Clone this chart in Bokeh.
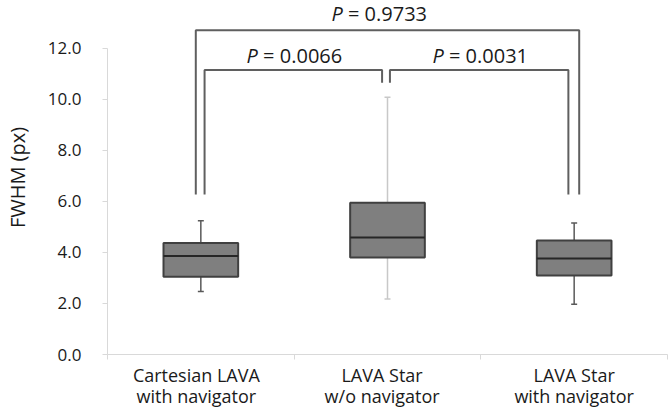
from bokeh.plotting import figure
from bokeh.models import FixedTicker, NumeralTickFormatter, Range1d
from bokeh.core.properties import value
from bokeh.embed import file_html
from bokeh.resources import INLINE

# ---- data ----
categories = ["Cartesian LAVA\nwith navigator", "LAVA Star\nw/o navigator", "LAVA Star\nwith navigator"]
whisker_low = [2.47, 2.17, 1.97]
q1 = [3.04, 3.80, 3.09]
median = [3.86, 4.58, 3.76]
q3 = [4.37, 5.94, 4.46]
whisker_high = [5.24, 10.07, 5.15]
y_ticks = [0, 2, 4, 6, 8, 10, 12]
comparisons = [(0, 1), (1, 2), (0, 2)]
p_values = ["0.0066", "0.0031", "0.9733"]

FONT = "Open Sans"
TXT = "#1a1a1a"
xs = [i + 1 for i in range(len(categories))]

p = figure(width=669, height=411, output_backend="svg", toolbar_location=None,
           x_range=Range1d(0.5, 3.5), y_range=Range1d(0, 13.86),
           min_border_left=102, min_border_right=2, min_border_top=0, min_border_bottom=56)
p.outline_line_color = None
p.grid.grid_line_color = None
p.background_fill_color = "white"

# whiskers
whisker_colors = ["#595959", "#c8c8c8", "#595959"]
p.segment(x0=xs, x1=xs, y0=q3, y1=whisker_high, line_color=whisker_colors, line_width=1.5)
p.segment(x0=xs, x1=xs, y0=whisker_low, y1=q1, line_color=whisker_colors, line_width=1.5)
cap = 0.016
p.segment(x0=[x - cap for x in xs], x1=[x + cap for x in xs], y0=whisker_high, y1=whisker_high,
          line_color=whisker_colors, line_width=1.5)
p.segment(x0=[x - cap for x in xs], x1=[x + cap for x in xs], y0=whisker_low, y1=whisker_low,
          line_color=whisker_colors, line_width=1.5)

# boxes
bw = 0.40
p.vbar(x=xs, width=bw, bottom=q1, top=q3, fill_color="#7f7f7f", line_color="#404040", line_width=2)
p.segment(x0=[x - bw / 2 for x in xs], x1=[x + bw / 2 for x in xs], y0=median, y1=median,
          line_color="#262626", line_width=2)

# significance brackets
br_color = "#5f5f5f"
leg_low = 6.26       # long legs (above boxes)
leg_mid = 10.64      # short legs near middle whisker
for (a, b), pv in zip(comparisons, p_values):
    xa, xb = xs[a], xs[b]
    if b - a == 2:
        top = 12.70
        la, lb = xa - 0.027, xb + 0.027
        ya, yb = leg_low, leg_low
        ty = 13.34
        tx = (la + lb) / 2 - 0.02
    else:
        top = 11.14
        if a == 0:
            la, lb = xa + 0.02, xb - 0.029
            ya, yb = leg_low, leg_mid
        else:
            la, lb = xa + 0.013, xb - 0.031
            ya, yb = leg_mid, leg_low
        ty = 11.70
        tx = (la + lb) / 2 + 0.03
    p.line(x=[la, la, lb, lb], y=[ya, top, top, yb], line_color=br_color, line_width=2)
    p.text(x=[tx], y=[ty], text=["P"], text_font=value(FONT), text_font_size="20px",
           text_font_style="italic", text_color=TXT, text_align="right",
           text_baseline="alphabetic", x_offset=-41)
    p.text(x=[tx], y=[ty], text=["\u00a0=\u00a0" + pv], text_font=value(FONT), text_font_size="20px",
           text_color=TXT, text_align="left", text_baseline="alphabetic", x_offset=-41)

# y axis
ya_ = p.yaxis[0]
ya_.ticker = FixedTicker(ticks=y_ticks)
ya_.formatter = NumeralTickFormatter(format="0.0")
ya_.bounds = (0, 12)
ya_.axis_line_color = "#d9d9d9"
ya_.major_tick_line_color = "#d9d9d9"
ya_.major_tick_out = 5
ya_.major_tick_in = 0
ya_.minor_tick_line_color = None
ya_.major_label_standoff = 21
ya_.major_label_text_font = FONT
ya_.major_label_text_font_size = "17px"
ya_.major_label_text_color = TXT
ya_.axis_label = "FWHM (px)"
ya_.axis_label_text_font = FONT
ya_.axis_label_text_font_size = "20px"
ya_.axis_label_text_font_style = "normal"
ya_.axis_label_text_color = TXT
ya_.axis_label_standoff = 14

# x axis: two-line label blocks (lines left-aligned), boundary ticks as minor ticks
label_shift = [-0.024, -0.029, 0.0]
label_pos = [x + s for x, s in zip(xs, label_shift)]
bounds_ticks = [x - 0.5 for x in xs] + [xs[-1] + 0.5]
xa_ = p.xaxis[0]
xa_.ticker = FixedTicker(ticks=label_pos, minor_ticks=bounds_ticks)
xa_.major_label_overrides = {t: c for t, c in zip(label_pos, categories)}
xa_.major_tick_line_color = None
xa_.major_tick_out = 0
xa_.major_tick_in = 0
xa_.minor_tick_line_color = "#d9d9d9"
xa_.minor_tick_out = 5
xa_.minor_tick_in = 0
xa_.axis_line_color = "#d9d9d9"
xa_.major_label_text_align = "left"
xa_.major_label_standoff = 3
xa_.major_label_text_font = FONT
xa_.major_label_text_font_size = "18px"
xa_.major_label_text_line_height = 0.9
xa_.major_label_text_color = TXT

open("out.html", "w").write(file_html(p, INLINE))
